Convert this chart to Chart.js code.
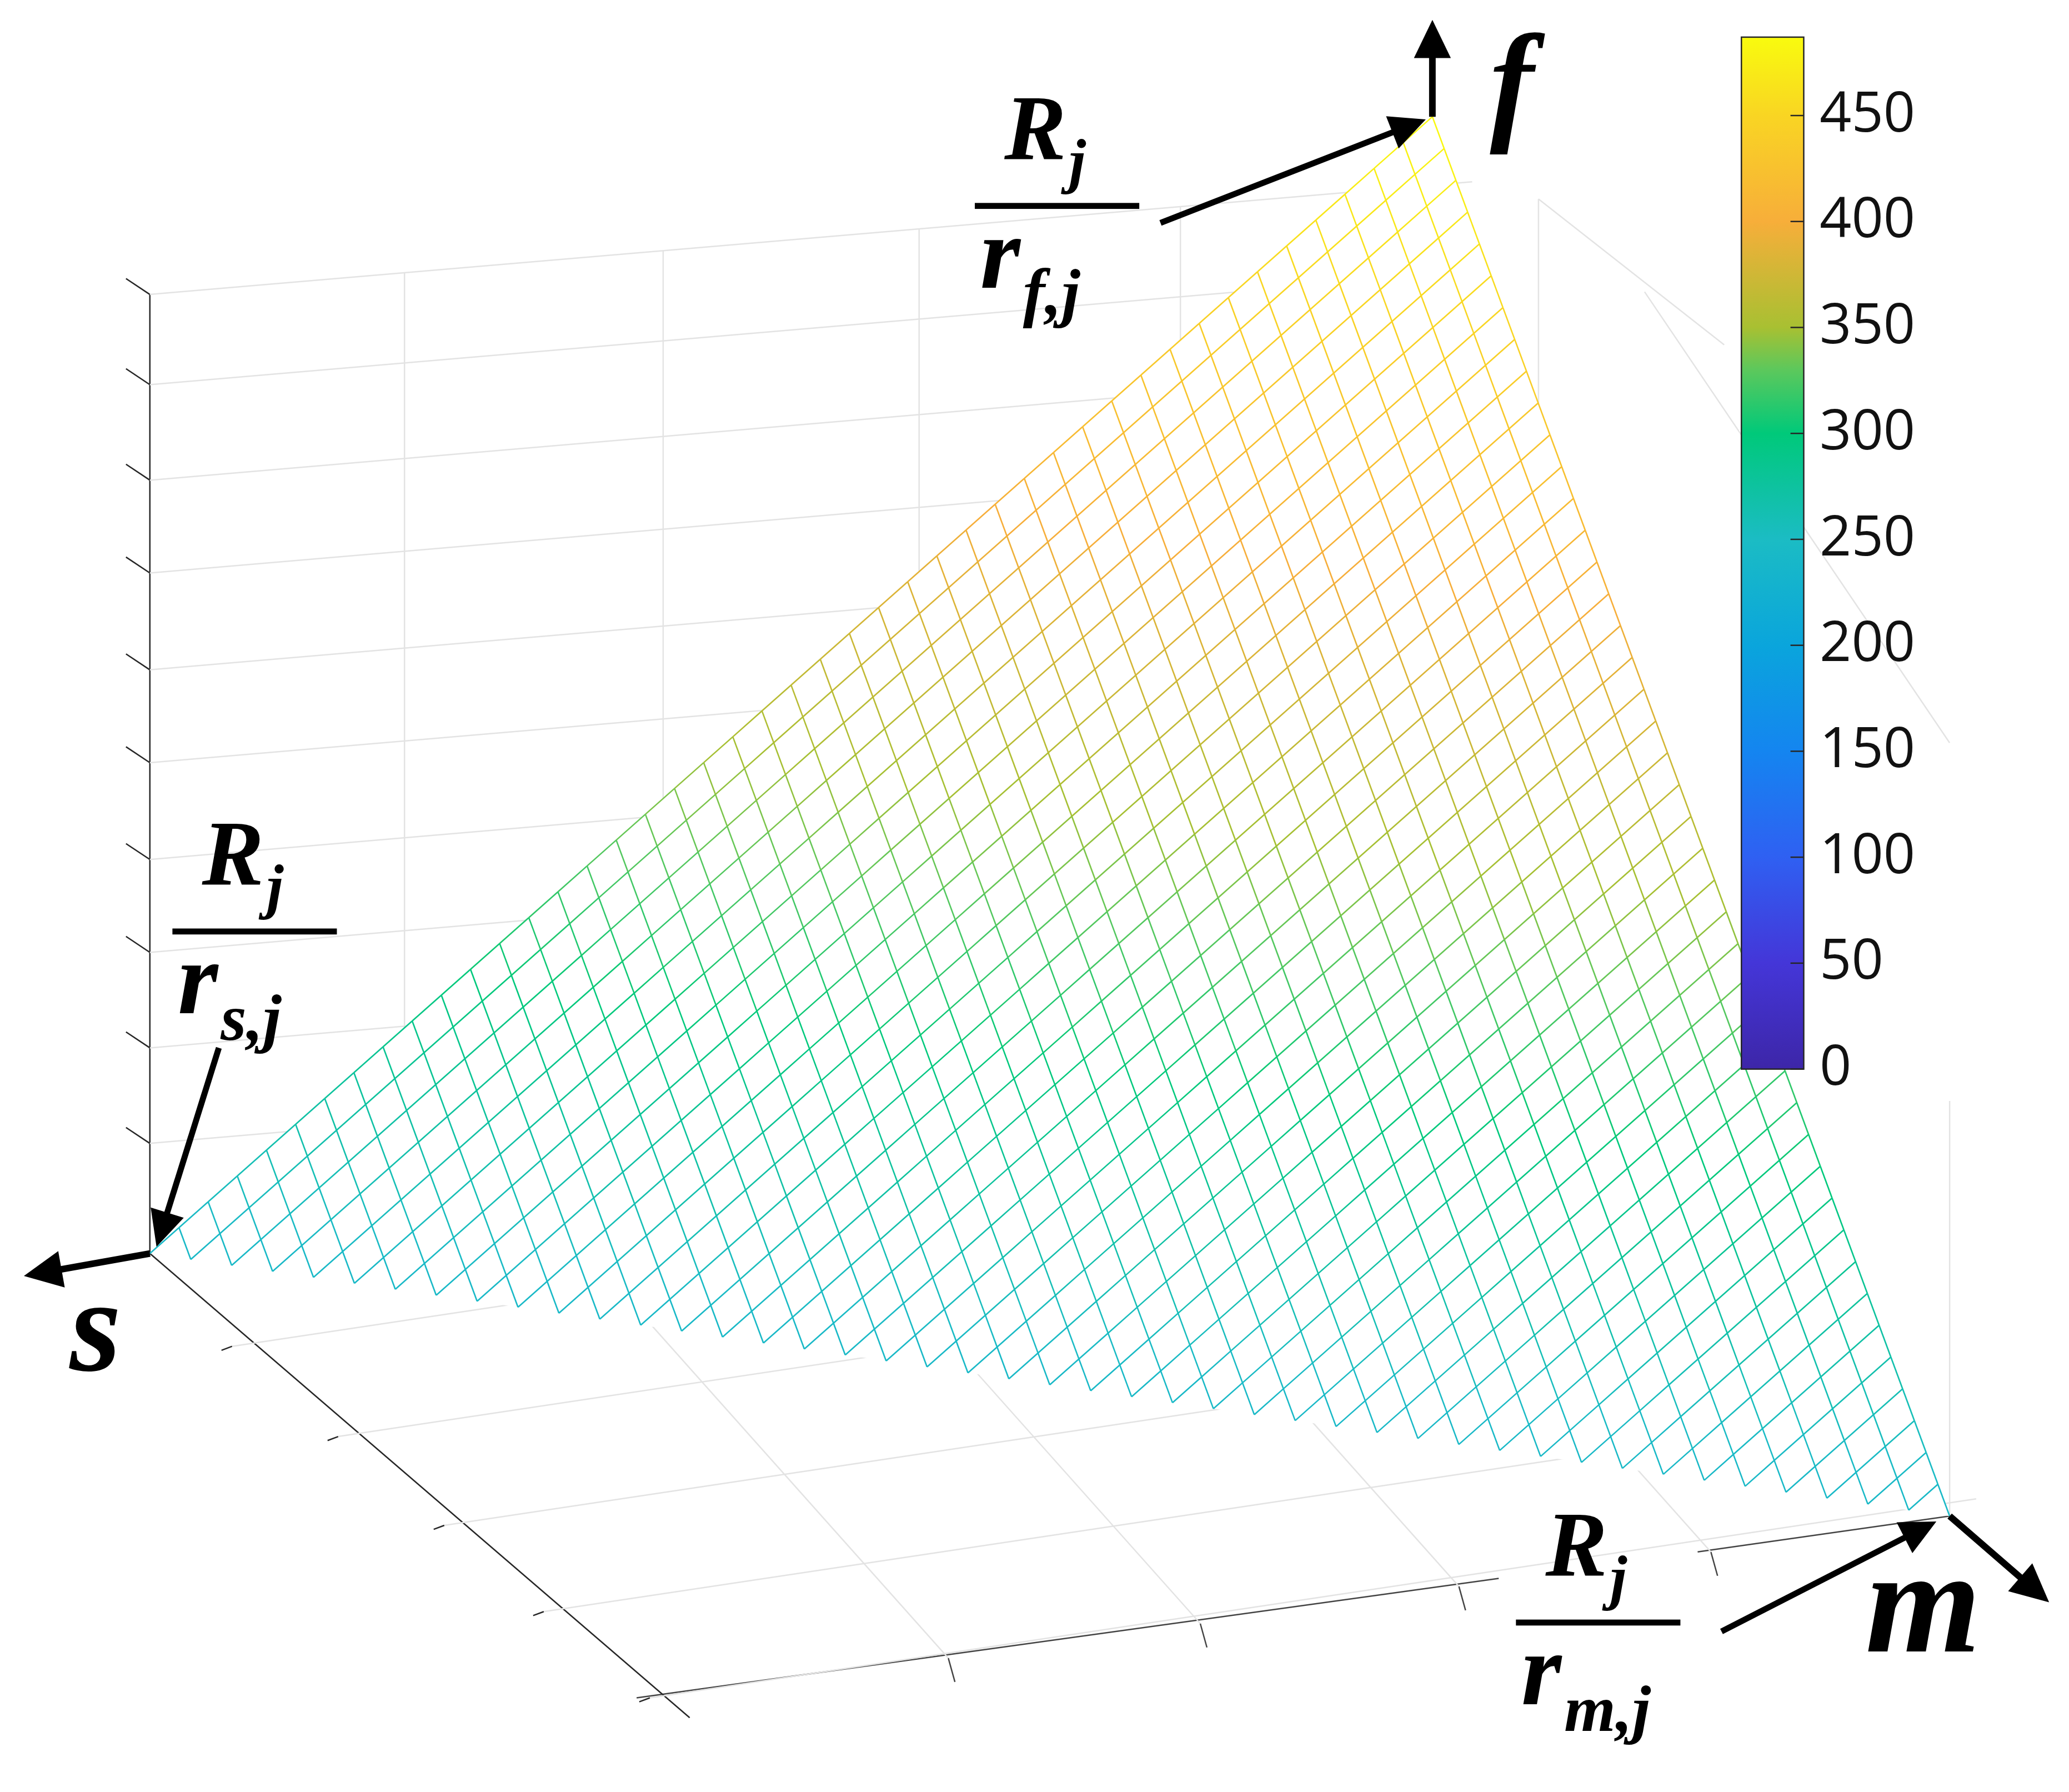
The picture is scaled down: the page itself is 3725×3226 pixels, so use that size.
<!DOCTYPE html>
<html>
<head>
<meta charset="utf-8">
<script src="https://cdn.jsdelivr.net/npm/chart.js@4.4.0/dist/chart.umd.min.js"></script>
<style>
  html, body { margin: 0; padding: 0; background: #fff; }
  #wrap { width: 3725px; height: 3226px; }
</style>
</head>
<body>
<div id="wrap"><canvas id="mesh-chart"></canvas></div>
<script>
// corners of the plane (s, m, f) projected into the figure's view units (1560 x 1351)
var cornerNames = ['s', 'm', 'f'];
var cornerX = [113, 1470, 1080];
var cornerY = [945, 1143, 88];
// surface value (colour) at each corner
var cornerValue = [240, 240, 487];
var meshDivisions = 44;

// colour bar
var cbTicks = [0, 50, 100, 150, 200, 250, 300, 350, 400, 450];
var cbMin = 0, cbMax = 487;
var cbStops = [0, 50, 100, 150, 200, 250, 300, 330, 350, 400, 450, 487];
var cbColors = ['#3d26a8', '#4436d8', '#2f60f2', '#1485f0', '#0aa5dc', '#1bbcc4', '#00c97a', '#5cc85c',
                '#a8c032', '#f7ae3a', '#f9d523', '#f9fb0e'];

// axis box (grey walls)
var backTicksY = [222, 290, 362, 432, 505, 575, 648, 718, 790, 862];
var backVertX = [305, 500, 693, 890];
var floorLeftTicks = [[175, 1015], [255, 1083], [335, 1150], [410, 1215], [490, 1280]];
var floorFrontTicks = [[715, 1250], [905, 1224], [1100, 1196], [1290, 1170]];

function hexToRgb(h) {
  return [parseInt(h.substr(1, 2), 16), parseInt(h.substr(3, 2), 16), parseInt(h.substr(5, 2), 16)];
}
function colorFor(v) {
  for (var i = 0; i < cbStops.length - 1; i++) {
    if (v <= cbStops[i + 1]) {
      var t = (v - cbStops[i]) / (cbStops[i + 1] - cbStops[i]);
      var a = hexToRgb(cbColors[i]), b = hexToRgb(cbColors[i + 1]);
      return 'rgb(' + [0, 1, 2].map(function (k) { return Math.round(a[k] + (b[k] - a[k]) * t); }).join(',') + ')';
    }
  }
  return cbColors[cbColors.length - 1];
}

// point on plane: F + u*(S-F) + v*(M-F)
function planePoint(u, v) {
  return {
    x: cornerX[2] + u * (cornerX[0] - cornerX[2]) + v * (cornerX[1] - cornerX[2]),
    y: cornerY[2] + u * (cornerY[0] - cornerY[2]) + v * (cornerY[1] - cornerY[2]),
    f: cornerValue[2] + u * (cornerValue[0] - cornerValue[2]) + v * (cornerValue[1] - cornerValue[2])
  };
}

var datasets = [];
function greyLine(pts, color, w) {
  datasets.push({
    data: pts.map(function (p) { return { x: p[0], y: p[1] }; }),
    showLine: true, borderColor: color || '#e3e3e3', borderWidth: w || 2.5,
    pointRadius: 0, fill: false, order: 10
  });
}

// back wall
backTicksY.forEach(function (y) { greyLine([[113, y], [1110, y - 85]]); });
backVertX.forEach(function (x) {
  var yTop = 222 - 0.0853 * (x - 113);
  greyLine([[x, yTop], [x, 900 - 0.08 * (x - 113)]]);
});
// right wall
[[1160, 150, 1300, 260], [1160, 150, 1160, 700], [1240, 220, 1470, 560], [1470, 830, 1470, 1143]].forEach(function (l) {
  greyLine([[l[0], l[1]], [l[2], l[3]]]);
});
// floor
floorLeftTicks.forEach(function (p) { greyLine([[p[0], p[1]], [p[0] + 1000, p[1] - 150]]); });
floorFrontTicks.forEach(function (p) { greyLine([[p[0], p[1]], [p[0] - 330, p[1] - 370]]); });
// dark axes
greyLine([[113, 222], [113, 945]], '#262626', 2.5);
backTicksY.forEach(function (y) { greyLine([[95, y - 12], [113, y]], '#262626', 2.5); });
greyLine([[113, 945], [520, 1295]], '#262626', 2.5);
floorLeftTicks.forEach(function (p) { greyLine([[p[0] - 8, p[1] + 3], [p[0], p[1]]], '#262626', 2.5); });
greyLine([[480, 1280], [1130, 1190]], '#444', 2.5);
greyLine([[1280, 1170], [1470, 1143]], '#444', 2.5);
floorFrontTicks.forEach(function (p) { greyLine([[p[0], p[1]], [p[0] + 5, p[1] + 18]], '#444', 2.5); });

// opaque white face of the surface (hides the walls behind it)
datasets.push({
  data: [0, 1, 2, 0].map(function (i) { return { x: cornerX[i], y: cornerY[i] }; }),
  showLine: true, borderWidth: 0, borderColor: 'rgba(0,0,0,0)', pointRadius: 0,
  fill: 'shape', backgroundColor: '#ffffff', order: 5
});

// mesh lines
for (var i = 0; i <= meshDivisions; i++) {
  var a = i / meshDivisions;
  var ptsU = [], ptsV = [];
  for (var j = 0; j <= meshDivisions - i; j++) {
    var b = j / meshDivisions;
    ptsU.push(planePoint(a, b));
    ptsV.push(planePoint(b, a));
  }
  [ptsU, ptsV].forEach(function (pts) {
    if (pts.length < 2) return;
    datasets.push({
      data: pts, showLine: true, borderWidth: 2.6, pointRadius: 0, fill: false, order: 1,
      segment: {
        borderColor: function (ctx) {
          var d = ctx.chart.data.datasets[ctx.datasetIndex].data;
          return colorFor((d[ctx.p0DataIndex].f + d[ctx.p1DataIndex].f) / 2);
        }
      }
    });
  });
}

function drawArrow(c, X, Y, x0, y0, x1, y1, w, head) {
  var px0 = X(x0), py0 = Y(y0), px1 = X(x1), py1 = Y(y1);
  var ang = Math.atan2(py1 - py0, px1 - px0);
  c.strokeStyle = '#000'; c.fillStyle = '#000'; c.lineWidth = w;
  c.beginPath(); c.moveTo(px0, py0);
  c.lineTo(px1 - Math.cos(ang) * head * 0.8, py1 - Math.sin(ang) * head * 0.8); c.stroke();
  c.beginPath(); c.moveTo(px1, py1);
  c.lineTo(px1 - head * Math.cos(ang - 0.45), py1 - head * Math.sin(ang - 0.45));
  c.lineTo(px1 - head * Math.cos(ang + 0.45), py1 - head * Math.sin(ang + 0.45));
  c.closePath(); c.fill();
}

function drawFraction(c, X, Y, cx, top, sub, k) {
  var serif = '"Liberation Serif", "DejaVu Serif", serif';
  c.fillStyle = '#000'; c.textAlign = 'left'; c.textBaseline = 'alphabetic';
  c.font = 'italic bold ' + (70 * k) + 'px ' + serif;
  var wR = c.measureText('R').width;
  c.fillText('R', X(cx) - wR * 0.85, Y(top + 55));
  c.font = 'italic bold ' + (46 * k) + 'px ' + serif;
  c.fillText('j', X(cx) - wR * 0.85 + wR + 2 * k, Y(top + 72));
  c.fillRect(X(cx - 62), Y(top + 88), 124 * k, 4.5 * k);
  c.font = 'italic bold ' + (78 * k) + 'px ' + serif;
  var wr = c.measureText('r').width;
  c.fillText('r', X(cx - 58), Y(top + 152));
  c.font = 'italic bold ' + (50 * k) + 'px ' + serif;
  c.fillText(sub, X(cx - 58) + wr + 2 * k, Y(top + 172));
}

// view y of a colour bar value
var cbTop = 28, cbBottom = 806;
function cbY(v) { return cbBottom - (v - cbMin) / (cbMax - cbMin) * (cbBottom - cbTop); }

var overlay = {
  id: 'overlay',
  afterDraw: function (chart) {
    var c = chart.ctx, sx = chart.scales.x, sy = chart.scales.y;
    var X = function (v) { return sx.getPixelForValue(v); };
    var Y = function (v) { return sy.getPixelForValue(v); };
    var k = (X(1560) - X(0)) / 1560;
    c.save();
    // colour bar
    var x0 = X(1313), x1 = X(1360), yT = Y(cbTop), yB = Y(cbBottom);
    var g = c.createLinearGradient(0, yB, 0, yT);
    cbStops.forEach(function (s, i) { g.addColorStop((s - cbMin) / (cbMax - cbMin), cbColors[i]); });
    c.fillStyle = g; c.fillRect(x0, yT, x1 - x0, yB - yT);
    c.strokeStyle = '#262626'; c.lineWidth = 2.5; c.strokeRect(x0, yT, x1 - x0, yB - yT);
    c.font = (42 * k) + 'px "Open Sans", "DejaVu Sans", sans-serif';
    c.fillStyle = '#111'; c.textAlign = 'left'; c.textBaseline = 'middle';
    cbTicks.forEach(function (t) {
      var yy = Y(cbY(t));
      c.beginPath(); c.moveTo(x1, yy); c.lineTo(x1 - 10 * k, yy); c.stroke();
      c.fillText(String(t), X(1372), yy);
    });
    // arrows
    drawArrow(c, X, Y, 113, 945, 18, 962, 5 * k, 32 * k);
    drawArrow(c, X, Y, 1080, 88, 1080, 15, 5 * k, 32 * k);
    drawArrow(c, X, Y, 1470, 1143, 1545, 1208, 5 * k, 32 * k);
    drawArrow(c, X, Y, 875, 168, 1075, 90, 4.5 * k, 30 * k);
    drawArrow(c, X, Y, 165, 790, 118, 940, 4.5 * k, 30 * k);
    drawArrow(c, X, Y, 1298, 1230, 1460, 1147, 4.5 * k, 30 * k);
    // fractions
    drawFraction(c, X, Y, 797, 65, 'f,j', k);
    drawFraction(c, X, Y, 192, 612, 's,j', k);
    drawFraction(c, X, Y, 1205, 1133, 'm,j', k);
    // axis letters
    var serif = '"Liberation Serif", "DejaVu Serif", serif';
    c.textAlign = 'center'; c.textBaseline = 'alphabetic'; c.fillStyle = '#000';
    c.font = 'italic bold ' + (100 * k) + 'px ' + serif;
    c.fillText('f', X(1140), Y(95));
    c.fillText('s', X(72), Y(1033));
    c.font = 'italic bold ' + (112 * k) + 'px ' + serif;
    c.fillText('m', X(1450), Y(1245));
    c.restore();
  }
};

new Chart(document.getElementById('mesh-chart').getContext('2d'), {
  type: 'scatter',
  data: { datasets: datasets },
  options: {
    responsive: true, maintainAspectRatio: false, animation: false,
    layout: { padding: 0 },
    plugins: { legend: { display: false }, tooltip: { enabled: false } },
    scales: {
      x: { type: 'linear', min: 0, max: 1560, display: false },
      y: { type: 'linear', min: 0, max: 1351, reverse: true, display: false }
    }
  },
  plugins: [overlay]
});
</script>
</body>
</html>
